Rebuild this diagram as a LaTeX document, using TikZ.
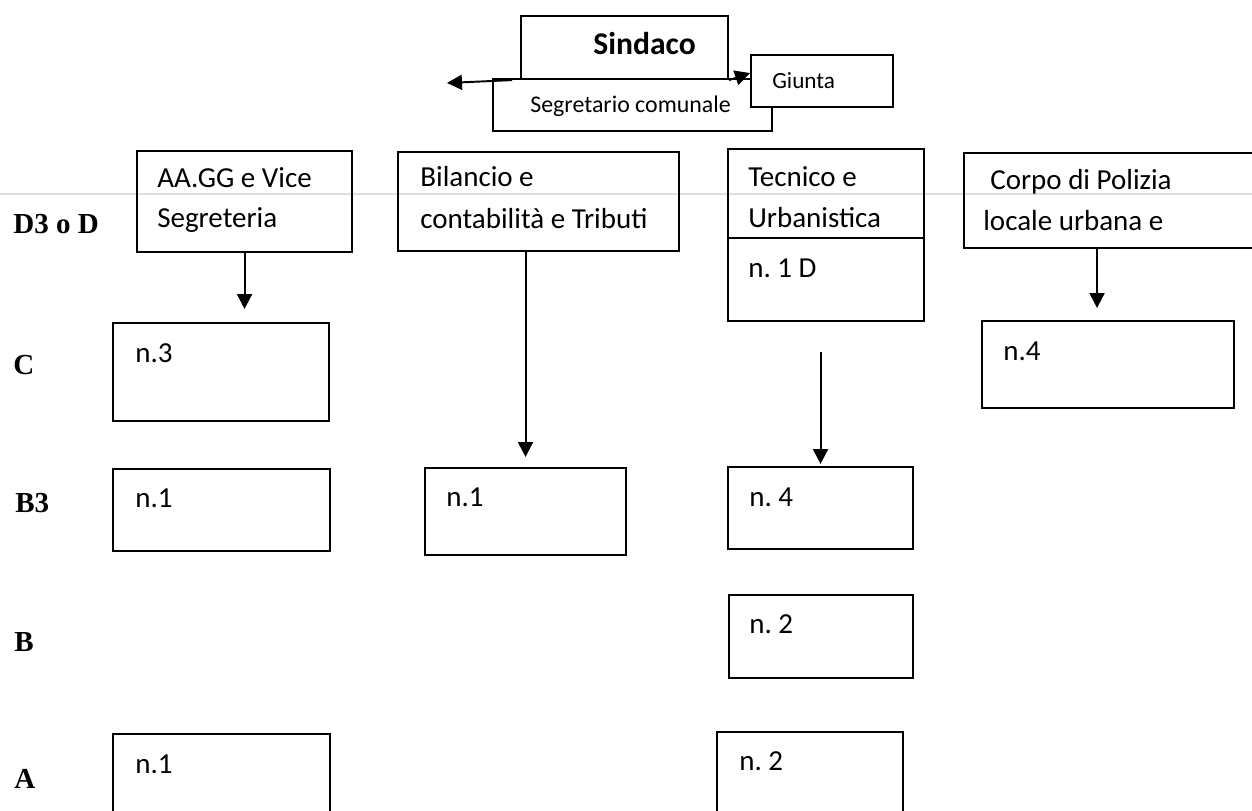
\documentclass[tikz,border=0pt]{standalone}
\usepackage{fontspec}
\setmainfont{Carlito}
\newfontfamily\lvlfont{Liberation Serif}
\usetikzlibrary{arrows.meta}
\frenchspacing

\begin{document}
\begin{tikzpicture}[x=0.02cm, y=-0.02cm,
    cell/.style={draw, line width=1.2pt, anchor=north west, inner sep=0pt},
    txt/.style={anchor=base west, inner sep=0pt, font=\fontsize{16.5}{20}\selectfont},
    lvl/.style={anchor=base west, inner sep=0pt, font=\lvlfont\bfseries\fontsize{16.5}{20}\selectfont},
    arr/.style={-{Triangle[length=0.3cm, width=0.3cm]}, line width=1.1pt}]
  \useasboundingbox (0,0) rectangle (1252,811);
  \clip (0,0) rectangle (1252,811);

  % scan line
  \draw[gray!25, line width=1.5pt] (0,194) -- (1252,194);

  % top boxes
  \node[cell, minimum width=4.14cm, minimum height=1.26cm] (sind) at (520,15) {};
  \node[cell, minimum width=5.58cm, minimum height=1.04cm] (seg) at (492,78) {};
  \node[cell, fill=white, minimum width=2.84cm, minimum height=1.04cm] (giunta) at (750,54) {};
  \node[anchor=base west, inner sep=0pt, font=\bfseries\fontsize{18}{20}\selectfont] (sind-t) at (593,55) {Sindaco};
  \node[anchor=base west, inner sep=0pt, font=\fontsize{13.6}{16}\selectfont] (seg-t) at (530,113) {Segretario comunale};
  \node[anchor=base west, inner sep=0pt, font=\fontsize{13.2}{16}\selectfont] (giunta-t) at (772,89) {Giunta};
  \coordinate (segl) at (447,83);
  \draw[arr] ([xshift=-0.16cm]sind.south west) -- (segl);
  \draw[arr] (sind.south east) -- ([yshift=0.16cm]giunta.west);

  % sectors
  \node[cell, minimum width=4.30cm, minimum height=2.02cm] (aagg) at (136,150) {};
  \node[cell, minimum width=5.62cm, minimum height=1.98cm] (bil) at (397,151) {};
  \node[cell, minimum width=3.92cm, minimum height=3.44cm] (tec) at (727,148) {};
  \node[cell, minimum width=5.98cm, minimum height=1.90cm] (corpo) at (963,152) {};
  \draw[line width=1.2pt] (tec.west |- 0,238) -- (tec.east |- 0,238);

  \node[txt] (aagg-t1) at (157,188) {AA.GG e Vice};
  \node[txt] (aagg-t2) at (157,228) {Segreteria};
  \node[txt] (bil-t1) at (420,187) {Bilancio e};
  \node[txt] (bil-t2) at (420,229) {contabilità e Tributi};
  \node[txt] (tec-t1) at (748,187) {Tecnico e};
  \node[txt] (tec-t2) at (748,228) {Urbanistica};
  \node[txt] (tec-t3) at (748,277) {n. 1 D};
  \node[txt] (corpo-t1) at (990,190) {Corpo di Polizia};
  \node[txt] (corpo-t2) at (983,231) {locale urbana e};

  % staff boxes
  \node[cell, minimum width=4.32cm, minimum height=1.96cm] (c1) at (112,322) {};
  \node[cell, minimum width=5.04cm, minimum height=1.74cm] (c4) at (981,320) {};
  \node[cell, minimum width=4.34cm, minimum height=1.64cm] (b3a) at (112,468) {};
  \node[cell, minimum width=4.02cm, minimum height=1.74cm] (b3b) at (424,467) {};
  \node[cell, minimum width=3.70cm, minimum height=1.64cm] (b3c) at (727,466) {};
  \node[cell, minimum width=3.68cm, minimum height=1.66cm] (bc) at (728,594) {};
  \node[cell, minimum width=4.34cm, minimum height=1.94cm] (aa) at (112,733) {};
  \node[cell, minimum width=3.72cm, minimum height=1.98cm] (ac) at (716,731) {};

  \node[txt] (c1-t) at (135,362) {n.3};
  \node[txt] (c4-t) at (1003,360) {n.4};
  \node[txt] (b3a-t) at (135,507) {n.1};
  \node[txt] (b3b-t) at (446,506) {n.1};
  \node[txt] (b3c-t) at (749,506) {n. 4};
  \node[txt] (bc-t) at (749,633) {n. 2};
  \node[txt] (aa-t) at (135,773) {n.1};
  \node[txt] (ac-t) at (739,770) {n. 2};

  % arrows
  \draw[arr, shorten >=0.26cm] (aagg.south) -- (aagg.south |- c1.north);
  \draw[arr, shorten >=0.2cm] (bil.south -| b3b.north) -- (b3b.north);
  \draw[arr, shorten <=0.6cm, shorten >=0.04cm] (tec.south -| b3c.north) -- (b3c.north);
  \draw[arr, shorten >=0.24cm] ([xshift=-0.22cm]c4.north |- corpo.south) -- ([xshift=-0.22cm]c4.north);

  % levels
  \node[lvl] (l-d) at (13,234) {D3 o D};
  \node[lvl] (l-c) at (13,374) {C};
  \node[lvl] (l-b3) at (15,512) {B3};
  \node[lvl] (l-b) at (14,651) {B};
  \node[lvl] (l-a) at (14,788) {A};
\end{tikzpicture}
\end{document}
